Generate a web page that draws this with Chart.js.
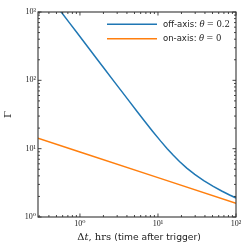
<!DOCTYPE html>
<html><head><meta charset="utf-8">
<script src="https://cdn.jsdelivr.net/npm/chart.js@4/dist/chart.umd.min.js"></script>
<style>html,body{margin:0;padding:0;background:#fff}canvas{display:block}</style>
</head><body>
<canvas id="c" width="250" height="250"></canvas>
<script>
// ---- data ----
const offAxisTime  = [0.509, 0.575, 0.730, 0.913, 1.284, 1.679, 2.034, 2.670, 3.39, 4.25, 5.40, 6.79, 8.52, 10.77, 13.14, 15.73, 18.86, 23.41, 29.6, 38.6, 51.1, 65.5, 82.8, 100];
const offAxisGamma = [1200, 1000, 700, 500, 300, 200, 150, 100, 70, 50, 35, 25, 18, 13, 10, 8, 6.5, 5.2, 4.2, 3.4, 2.8, 2.4, 2.1, 1.90];
const onAxisTime   = [0.29, 1, 10, 100];
const onAxisGamma  = [14.2, 8.95, 3.77, 1.59];
const seriesNames  = ['off-axis:', 'on-axis:'];
const seriesTheta  = ['0.2', '0'];
const xTickValues  = [1, 10, 100];
const yTickValues  = [1, 10, 100, 1000];
const xRange = [0.29, 100];
const yRange = [1, 1000];
const xTitleMath = ['Δ', 't', ', hrs '];
const xTitleText = '(time after trigger)';
const yTitle = 'Γ';

const SERIF = "'DejaVu Serif', serif";
const TICKSERIF = "'Liberation Serif', 'DejaVu Serif', serif";
const SANS = "'DejaVu Sans', sans-serif";
const sup = {'-1':'⁻¹', '0':'⁰', '1':'¹', '2':'²', '3':'³'};
const fmt = v => '10' + sup[String(Math.round(Math.log10(v)))];

const frameAndTicks = {
  id: 'frameAndTicks',
  afterDraw(chart) {
    const {ctx, chartArea: a, scales: {x, y}} = chart;
    ctx.save();
    ctx.strokeStyle = '#333';
    ctx.lineWidth = 0.9;
    ctx.beginPath();
    const decades = [0.01, 0.1, 1, 10, 100, 1000];
    decades.forEach(d => {
      for (let m = 1; m <= 9; m++) {
        const v = d * m;
        const len = m === 1 ? 3.5 : 2;
        const px = x.getPixelForValue(v);
        if (px >= a.left - 0.3 && px <= a.right + 0.3) {
          ctx.moveTo(px, a.bottom); ctx.lineTo(px, a.bottom - len);
          ctx.moveTo(px, a.top); ctx.lineTo(px, a.top + len);
        }
        const py = y.getPixelForValue(v);
        if (py >= a.top - 0.3 && py <= a.bottom + 0.3) {
          ctx.moveTo(a.left, py); ctx.lineTo(a.left + len, py);
          ctx.moveTo(a.right, py); ctx.lineTo(a.right - len, py);
        }
      }
    });
    ctx.stroke();
    ctx.lineWidth = 1.1;
    ctx.strokeRect(a.left, a.top, a.right - a.left, a.bottom - a.top);

    // x axis title (mixed fonts)
    const parts = [
      {t: xTitleMath[0], f: '10px ' + SERIF},
      {t: xTitleMath[1], f: 'italic 10px ' + SERIF},
      {t: xTitleMath[2], f: '10px ' + SERIF},
      {t: xTitleText, f: '9.2px ' + SANS}
    ];
    let total = 0;
    parts.forEach(p => { ctx.font = p.f; p.w = ctx.measureText(p.t).width; total += p.w; });
    let cx = 139 - total / 2;
    ctx.fillStyle = '#222';
    ctx.textBaseline = 'alphabetic';
    parts.forEach(p => { ctx.font = p.f; ctx.fillText(p.t, cx, 240); cx += p.w; });

    // legend
    chart.data.datasets.forEach((ds, i) => {
      const ly = 24.3 + i * 14.4;
      ctx.strokeStyle = ds.borderColor;
      ctx.lineWidth = 1.5;
      ctx.beginPath(); ctx.moveTo(107, ly); ctx.lineTo(157, ly); ctx.stroke();
      ctx.fillStyle = '#222';
      ctx.textBaseline = 'middle';
      let tx = 163;
      ctx.font = '8.5px ' + SANS;
      ctx.fillText(seriesNames[i], tx, ly);
      tx += ctx.measureText(seriesNames[i]).width + 2.5;
      ctx.font = 'italic 8.5px ' + SERIF;
      ctx.fillText('θ', tx, ly);
      tx += ctx.measureText('θ').width + 2;
      ctx.font = '8.5px ' + SERIF;
      ctx.fillText('= ' + seriesTheta[i], tx, ly);
    });
    ctx.restore();
  }
};

const tickFont = {family: TICKSERIF, size: 8};
new Chart(document.getElementById('c'), {
  type: 'line',
  data: {
    datasets: [
      {label: seriesNames[0] + ' θ = ' + seriesTheta[0], data: offAxisTime.map((t, i) => ({x: t, y: offAxisGamma[i]})),
       borderColor: '#1f77b4', backgroundColor: '#1f77b4', borderWidth: 1.5, pointRadius: 0, tension: 0},
      {label: seriesNames[1] + ' θ = ' + seriesTheta[1], data: onAxisTime.map((t, i) => ({x: t, y: onAxisGamma[i]})),
       borderColor: '#ff7f0e', backgroundColor: '#ff7f0e', borderWidth: 1.5, pointRadius: 0, tension: 0}
    ]
  },
  options: {
    responsive: false,
    animation: false,
    devicePixelRatio: 1,
    layout: {padding: {top: 12, right: 14, left: 0, bottom: 0}},
    plugins: {legend: {display: false}, tooltip: {enabled: false}},
    scales: {
      x: {
        type: 'logarithmic', min: xRange[0], max: xRange[1],
        afterBuildTicks: s => { s.ticks = xTickValues.map(v => ({value: v})); },
        afterFit: s => { s.height = 33; },
        ticks: {callback: fmt, font: tickFont, color: '#222', padding: 2, maxRotation: 0, autoSkip: false},
        grid: {display: false, drawTicks: false},
        border: {display: false}
      },
      y: {
        type: 'logarithmic', min: yRange[0], max: yRange[1],
        afterBuildTicks: s => { s.ticks = yTickValues.map(v => ({value: v})); },
        afterFit: s => { s.width = 38; },
        ticks: {callback: fmt, font: tickFont, color: '#222', padding: 2, autoSkip: false},
        grid: {display: false, drawTicks: false},
        border: {display: false},
        title: {display: true, text: yTitle, font: {family: SERIF, size: 10}, color: '#222', padding: 2}
      }
    }
  },
  plugins: [frameAndTicks]
});
</script>
</body></html>
